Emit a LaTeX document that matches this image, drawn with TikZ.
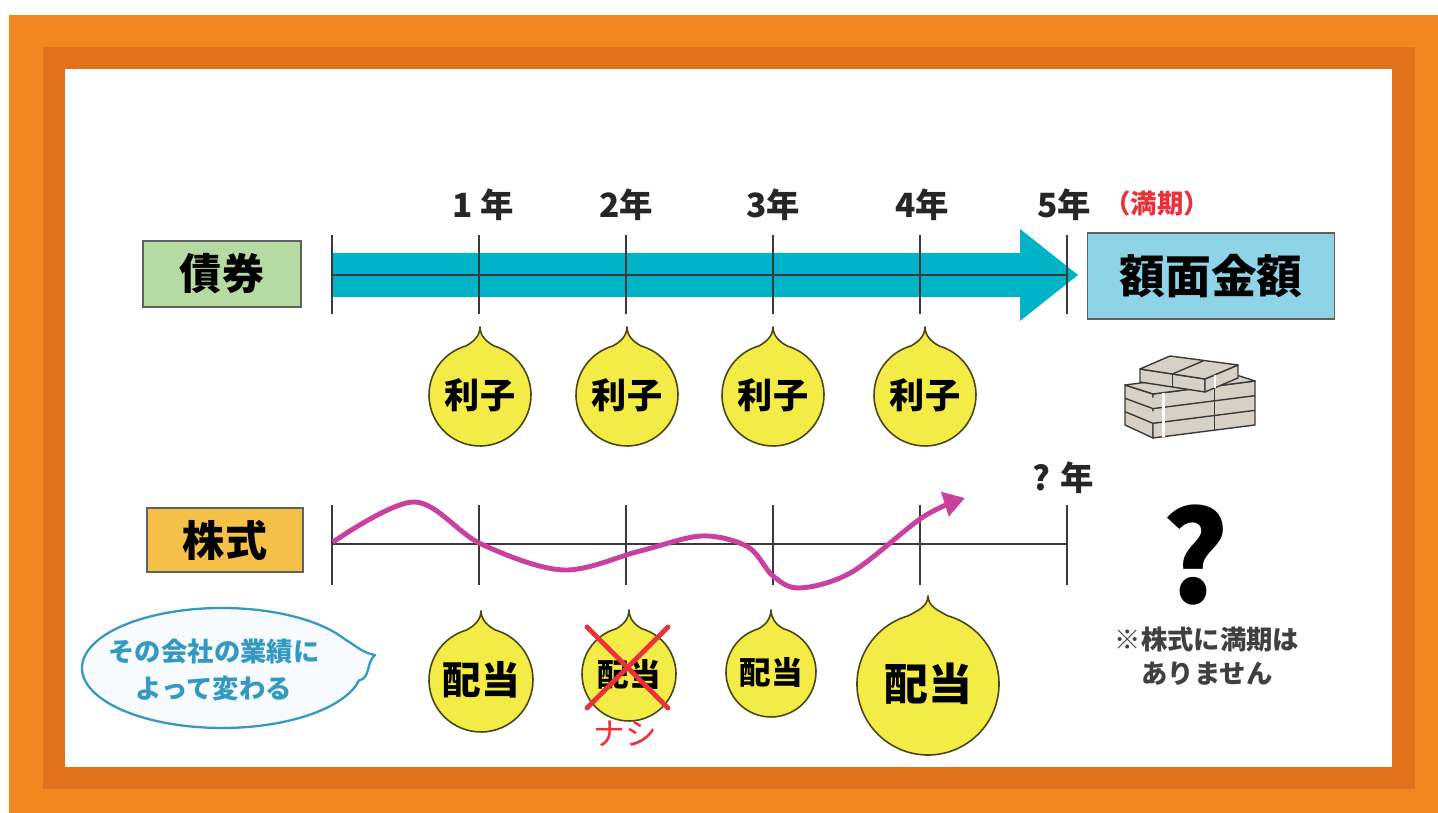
\documentclass[tikz,border=0pt]{standalone}
\usepackage{fontspec}
\setmainfont{Noto Sans CJK JP}
\usetikzlibrary{positioning, calc, arrows.meta}

\definecolor{frameorange}{HTML}{F28720}
\definecolor{framedark}{HTML}{E2711E}
\definecolor{bondteal}{HTML}{00B3C6}
\definecolor{faceblue}{HTML}{8ED3E6}
\definecolor{bondgreen}{HTML}{B5DBA3}
\definecolor{stockgold}{HTML}{F5C048}
\definecolor{dropyellow}{HTML}{F3EB46}
\definecolor{waveviolet}{HTML}{C9409F}
\definecolor{crossred}{HTML}{EA3038}
\definecolor{noteblue}{HTML}{3399C2}
\definecolor{inkgray}{HTML}{3A3A3A}
\definecolor{billbeige}{HTML}{D8D0C4}

% drop-shaped bubble: name, x, y, radius
\newcommand{\drop}[4]{%
  \coordinate (#1) at (#2,#3);
  \coordinate (#1 tip) at ($(#1)+(0,#4+17)$);
  \filldraw[dropshape] (#1 tip) to[out=-88,in=150] ($(#1)+(74:#4)$)
    arc[start angle=74, end angle=-254, radius=#4]
    to[out=30,in=-92] (#1 tip) -- cycle;
}

\begin{document}
\begin{tikzpicture}[
  x=0.02cm, y=0.02cm,
  tick/.style={draw=inkgray, line width=1.1pt},
  axis/.style={draw=inkgray, line width=1.1pt},
  yearlabel/.style={font=\fontsize{19}{19}\selectfont\bfseries, text=black!85},
  kindbox/.style={draw=inkgray!80, line width=1.1pt, font=\fontsize{24}{24}\selectfont\bfseries, inner sep=0pt},
  dropshape/.style={fill=dropyellow, draw=black!70!dropyellow, line width=0.9pt, line join=round},
  droplabel/.style={font=\fontsize{20}{20}\selectfont\bfseries, text=black},
  wave/.style={draw=waveviolet, line width=2.8pt, -{Triangle[length=12pt, width=14pt]}},
  crossline/.style={draw=crossred, line width=2.8pt, line cap=round},
  notecloud/.style={draw=noteblue, fill=noteblue!4, line width=1.3pt, line join=round},
  notetext/.style={font=\fontsize{15}{21.5}\selectfont\bfseries, text=noteblue, align=center},
  bill/.style={fill=billbeige, draw=inkgray, line width=0.8pt, line join=round}
]
  \useasboundingbox (0,0) rectangle (1438,813);
  \fill[white] (0,0) rectangle (1438,813);

  % frame
  \fill[frameorange] (9,0) rectangle (1438,798);
  \fill[framedark] (43,24) rectangle (1415,766);
  \fill[white] (65,46) rectangle (1392,744);

  % Bond row
  \node[kindbox, fill=bondgreen, minimum width=90pt, minimum height=37.4pt] (bond) at (222,539) {債券};
  \foreach \k in {0,...,5}
    \coordinate (b\k) at ({332+147*\k},538);
  \fill[bondteal] (b0) ++(0,-22) -- (1020,516) -- (1020,492) -- (1078,538)
    -- (1020,584) -- (1020,560) -- ($(b0)+(0,22)$) -- cycle;
  \draw[axis] (b0) -- (b5);
  \foreach \k in {0,...,5}
    \draw[tick] (b\k) ++(0,-39) -- ++(0,79);
  \foreach \k/\t/\dx in {1/1 年/4, 2/2年/0, 3/3年/0, 4/4年/2, 5/5年/-3}
    \node[yearlabel] (year\k) at ($(b\k)+(\dx,70)$) {\t};
  \node[font=\fontsize{15}{15}\selectfont\bfseries, text=crossred] (maturity) at (1157,609) {（満期）};
  \node[kindbox, fill=faceblue, minimum width=140.6pt, minimum height=49.3pt,
        font=\fontsize{26}{26}\selectfont\bfseries] (face) at (1211,537) {額面金額};

  % interest bubbles
  \foreach \n/\x in {1/480, 2/627, 3/773, 4/925} {
    \drop{i\n}{\x}{418}{51}
    \node[droplabel] (i\n label) at (i\n) {利子};
  }

  % pile of bills
  \coordinate (pA) at (1125,428); \coordinate (pD) at (1153,419);
  \coordinate (pC) at (1255,432); \coordinate (pB) at (1227,441);
  \coordinate (pA') at (1125,388); \coordinate (pD') at (1153,375);
  \coordinate (pC') at (1255,388);
  \filldraw[bill] (pA) -- (pD) -- (pD') -- (pA') -- cycle;
  \filldraw[bill] (pD) -- (pC) -- (pC') -- (pD') -- cycle;
  \filldraw[bill] (pA) -- (pB) -- (pC) -- (pD) -- cycle;
  \foreach \f in {0.333, 0.667} {
    \draw[bill] ($(pA)!\f!(pA')$) -- ($(pD)!\f!(pD')$) -- ($(pC)!\f!(pC')$);
  }
  \draw[bill] ($(pD)!0.6!(pC)$) -- ($(pD')!0.6!(pC')$);
  \draw[white, line width=1.5pt] ($(pD)!0.1!(pC)$) -- ($(pD')!0.1!(pC')$);
  % upper bundles
  \coordinate (pE) at (1140,444); \coordinate (pF) at (1170,457);
  \coordinate (pG) at (1238,448); \coordinate (pH) at (1205,434);
  \coordinate (pE') at (1140,431); \coordinate (pH') at (1205,421);
  \coordinate (pG') at (1238,435);
  \filldraw[bill] (pE) -- (pH) -- (pH') -- (pE') -- cycle;
  \filldraw[bill] (pH) -- (pG) -- (pG') -- (pH') -- cycle;
  \filldraw[bill] (pE) -- (pF) -- (pG) -- (pH) -- cycle;
  \draw[bill] ($(pE)!0.5!(pH)$) -- ($(pF)!0.5!(pG)$);
  \draw[bill] ($(pE)!0.5!(pH)$) -- ($(pE')!0.5!(pH')$);
  \draw[white, line width=1.5pt] ($(pH)!0.3!(pG)$) -- ($(pH')!0.3!(pG')$);

  % Stock row
  \node[kindbox, fill=stockgold, minimum width=89pt, minimum height=36.3pt] (stock) at (225,273) {株式};
  \foreach \k in {0,...,5}
    \coordinate (s\k) at ({332+147*\k},269);
  \draw[axis] (s0) -- (s5);
  \foreach \k in {0,...,5}
    \draw[tick] (s\k) ++(0,-41) -- ++(0,80);
  \node[yearlabel] (yearq) at ($(s5)+(-4,66)$) {? 年};
  \draw[wave] plot[smooth, tension=0.55] coordinates {
    (333,271) (414,311) (481,269) (563,243) (640,262) (702,277) (748,266)
    (773,237) (800,225) (852,241) (923,296) (965,315)};

  % dividend bubbles
  \drop{d1}{481}{133}{52}
  \drop{d2}{629}{139}{47}
  \drop{d3}{771}{141}{45}
  \drop{d4}{928}{129}{71}
  \node[droplabel, font=\fontsize{22}{22}\selectfont\bfseries] (d1 label) at (d1) {配当};
  \node[droplabel, font=\fontsize{18}{18}\selectfont\bfseries] (d2 label) at (d2) {配当};
  \node[droplabel, font=\fontsize{18}{18}\selectfont\bfseries] (d3 label) at (d3) {配当};
  \node[droplabel, font=\fontsize{25}{25}\selectfont\bfseries] (d4 label) at (d4) {配当};
  \draw[crossline] ($(d2)+(-42,47)$) -- ($(d2)+(39,-34)$);
  \draw[crossline] ($(d2)+(39,47)$) -- ($(d2)+(-42,-34)$);
  \node[font=\fontsize{18}{18}\selectfont, text=crossred] (none) at (625,79) {ナシ};

  % note cloud
  \coordinate (note) at (222,145);
  \coordinate (note tail) at (375,158);
  \coordinate (note top) at ($(note)+(28:140 and 60)$);
  \filldraw[notecloud] (note top) arc[start angle=28, end angle=348, x radius=140, y radius=60]
    to[out=10,in=-140] (note tail) to[out=170,in=-30] (note top) -- cycle;
  \node[notetext] (note text) at (214,143) {その会社の業績に\\よって変わる};

  % no maturity
  \node[font=\fontsize{72}{72}\selectfont\bfseries] (unknown) at (1195,258) {?};
  \node[font=\fontsize{15}{19}\selectfont\bfseries, text=black!75, align=center] (nomaturity) at (1207,157)
    {※株式に満期は\\ありません};
\end{tikzpicture}
\end{document}
